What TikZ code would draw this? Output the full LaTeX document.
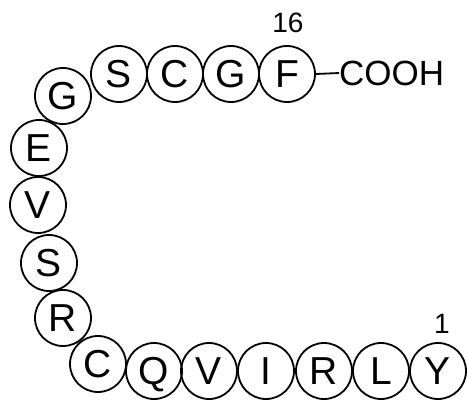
\documentclass[tikz,border=0pt]{standalone}
\usepackage{fontspec}
\setmainfont{Liberation Sans}
\begin{document}
\begin{tikzpicture}[x=1pt,y=-1pt,
  res/.style={circle,draw,line width=1.8pt,minimum size=56pt,inner sep=0pt,
    font=\fontsize{39}{42}\selectfont,text height=27.9pt,text depth=0pt},
  numlab/.style={font=\fontsize{28}{32}\selectfont,inner sep=0pt},
  termlab/.style={font=\fontsize{35}{38}\selectfont,inner sep=0pt}]
\useasboundingbox (0,0) rectangle (467,400);
% top row
\node[res] (g1) at (63,96) {G};
\node[res] (s1) at (119,74) {S};
\node[res] (c1) at (175,74) {C};
\node[res] (g2) at (231,74) {G};
\node[res] (f)  at (287,74) {F};
% left column
\node[res] (e)  at (39,148) {E};
\node[res] (v1) at (38,205) {V};
\node[res] (s2) at (49,263) {S};
\node[res] (r1) at (63,318) {R};
\node[res] (c2) at (98,364) {C};
% bottom row
\node[res] (q)  at (154,371) {Q};
\node[res] (v2) at (209,371) {V};
\node[res] (i)  at (266,371) {I};
\node[res] (r2) at (324,371) {R};
\node[res] (l)  at (381,371) {L};
\node[res] (y)  at (438,371) {Y};
% labels
\node[numlab] (n16) at (288,23) {16};
\node[numlab] (n1) at (442,324) {1};
\node[termlab,anchor=west] (cooh) at (339,73) {COOH};
\draw[line width=1.8pt] (f.east) -- (cooh.west);
\end{tikzpicture}
\end{document}
